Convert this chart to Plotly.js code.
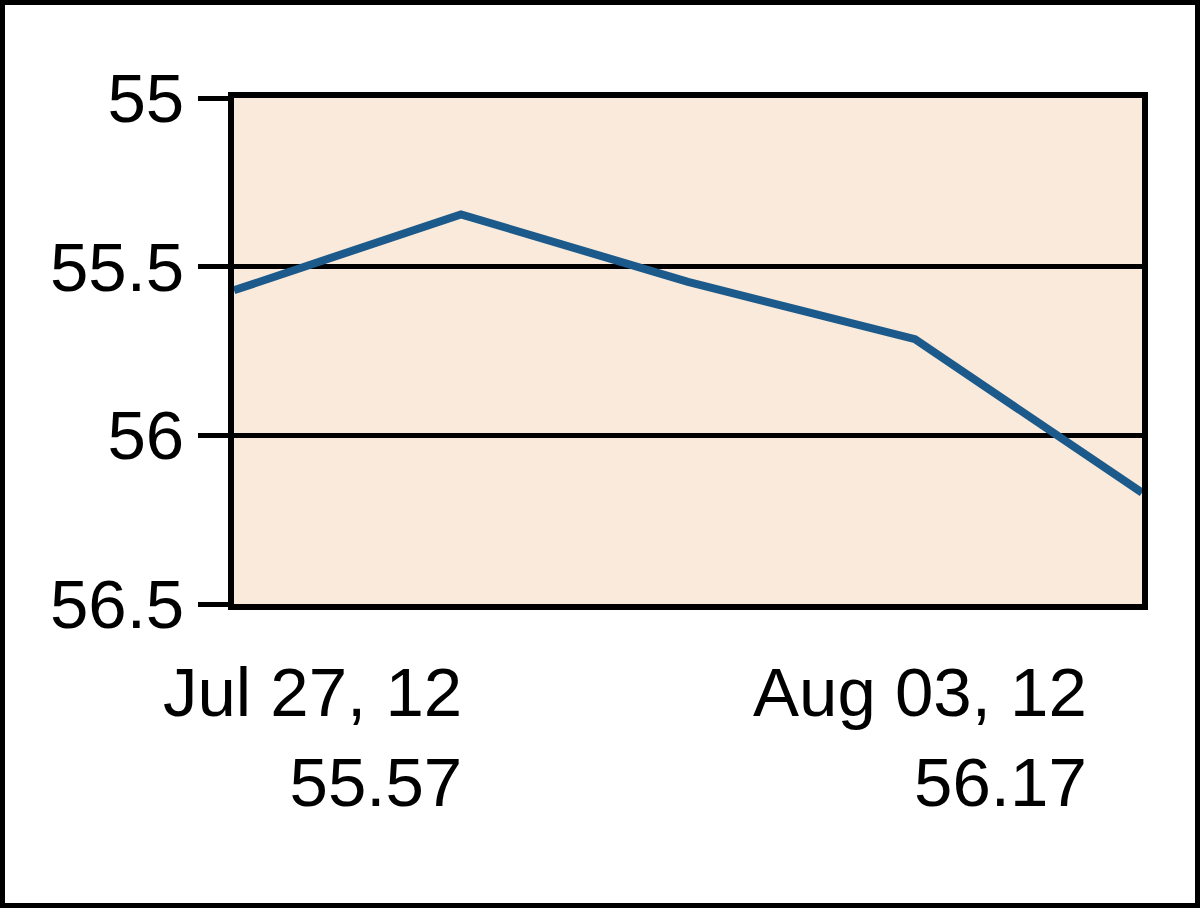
<!DOCTYPE html>
<html>
<head>
<meta charset="utf-8">
<script src="https://cdn.plot.ly/plotly-3.0.1.min.js"></script>
<style>
  html, body { margin: 0; padding: 0; background: #fff; }
  #frame { width: 1200px; height: 908px; box-sizing: border-box; border: 5px solid #000; background: #fff; }
  #chart { width: 1190px; height: 898px; }
</style>
</head>
<body>
<div id="frame"><div id="chart"></div></div>
<script>
// Data
const dates = ["Jul 27, 12", "Jul 30, 12", "Jul 31, 12", "Aug 01, 12", "Aug 03, 12"];
const prices = [55.57, 55.345, 55.545, 55.715, 56.17];
const yTicks = [55, 55.5, 56, 56.5];
const labelDates = ["Jul 27, 12", "Aug 03, 12"];
const labelValues = ["55.57", "56.17"];

const xIdx = dates.map((d, i) => i);

const trace = {
  x: xIdx,
  y: prices,
  type: 'scatter',
  mode: 'lines',
  line: { color: '#1B5A8A', width: 8 },
  hoverinfo: 'skip'
};

const font = { family: 'Liberation Sans, Arial, sans-serif', size: 69, color: '#000' };

const layout = {
  width: 1190,
  height: 898,
  margin: { l: 229, r: 53, t: 93, b: 299 },
  paper_bgcolor: '#ffffff',
  plot_bgcolor: '#FAEADB',
  showlegend: false,
  xaxis: {
    range: [0, xIdx.length - 1],
    showgrid: false,
    zeroline: false,
    showticklabels: false,
    ticks: '',
    showline: true,
    linecolor: '#000',
    linewidth: 6,
    mirror: true
  },
  yaxis: {
    range: [56.5, 55],
    tickvals: yTicks,
    ticktext: yTicks.map(v => String(v)),
    ticks: 'outside',
    ticklen: 30,
    tickwidth: 5,
    tickcolor: '#000',
    tickfont: font,
    showgrid: true,
    gridcolor: '#000',
    gridwidth: 5,
    zeroline: false,
    showline: true,
    linecolor: '#000',
    linewidth: 6,
    mirror: true
  },
  annotations: [
    {
      xref: 'paper', yref: 'paper',
      x: 0.253, y: -0.095,
      xanchor: 'right', yanchor: 'top',
      align: 'right',
      showarrow: false,
      text: labelDates[0] + '<br>' + labelValues[0],
      font: font
    },
    {
      xref: 'paper', yref: 'paper',
      x: 0.942, y: -0.095,
      xanchor: 'right', yanchor: 'top',
      align: 'right',
      showarrow: false,
      text: labelDates[1] + '<br>' + labelValues[1],
      font: font
    }
  ]
};

Plotly.newPlot('chart', [trace], layout, { displayModeBar: false, staticPlot: true });
</script>
</body>
</html>
